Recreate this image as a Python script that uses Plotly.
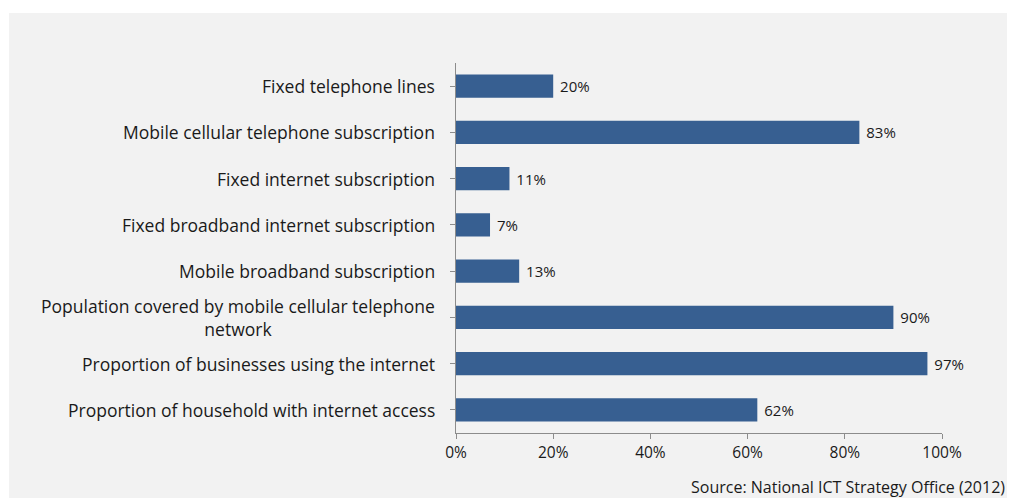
import plotly.graph_objects as go

categories = [
    "Fixed telephone lines",
    "Mobile cellular telephone subscription",
    "Fixed internet subscription",
    "Fixed broadband internet subscription",
    "Mobile broadband subscription",
    "Population covered by mobile cellular telephone<br>network",
    "Proportion of businesses using the internet",
    "Proportion of household with internet access",
]
values = [20, 83, 11, 7, 13, 90, 97, 62]
x_ticks = [0, 20, 40, 60, 80, 100]
x_tick_labels = ["0%", "20%", "40%", "60%", "80%", "100%"]
source_text = "Source: National ICT Strategy Office (2012)"

FONT = "Open Sans"
W, H = 1015, 498          # page body has an 8px margin; overflow is clipped
L, R, T, B = 448, 81, 55, 73
pw, ph = W - L - R, H - T - B

fig = go.Figure()
fig.add_trace(go.Bar(
    x=values, y=list(range(len(categories))), orientation="h",
    marker=dict(color="#375F91", line=dict(width=0)),
    text=[f"\u00a0{v}%" for v in values],
    textposition="outside", cliponaxis=False,
    textfont=dict(family=FONT, size=15, color="#1a1a1a"),
    hoverinfo="skip",
))

for i, c in enumerate(categories):
    fig.add_annotation(
        x=0, xref="paper", y=i, yref="y", text=c, showarrow=False,
        xanchor="right", xshift=-19, align="center",
        font=dict(family=FONT, size=17.5, color="#1a1a1a"),
    )

fig.add_annotation(
    x=(999 - L) / pw, xref="paper", y=(H - B - 479) / ph, yref="paper",
    text=source_text, showarrow=False, xanchor="right", yanchor="middle",
    font=dict(family=FONT, size=16, color="#1a1a1a"),
)

fig.add_shape(
    type="rect", xref="paper", yref="paper", layer="below",
    x0=(1 - L) / pw, x1=(W + 5 - L) / pw,
    y0=(H - B - (H + 5)) / ph, y1=(H - B - 5) / ph,
    fillcolor="#f2f2f2", line=dict(width=0),
)

fig.update_layout(
    width=W, height=H,
    margin=dict(l=L, r=R, t=T, b=B),
    paper_bgcolor="white", plot_bgcolor="rgba(0,0,0,0)",
    showlegend=False, bargap=0.5,
    xaxis=dict(
        range=[0, 100], tickvals=x_ticks, ticktext=x_tick_labels,
        showgrid=False, zeroline=False, showline=True, linecolor="#8c8c8c",
        linewidth=1, ticks="outside", ticklen=5, tickcolor="#8c8c8c",
        tickfont=dict(family=FONT, size=15.5, color="#1a1a1a"),
    ),
    yaxis=dict(
        range=[len(categories) - 0.5, -0.5], tickvals=list(range(len(categories))),
        showticklabels=False, tickson="boundaries",
        showgrid=False, zeroline=False, showline=True, linecolor="#8c8c8c",
        linewidth=1, ticks="outside", ticklen=5, tickcolor="#8c8c8c",
    ),
)

fig.write_html("out.html")
